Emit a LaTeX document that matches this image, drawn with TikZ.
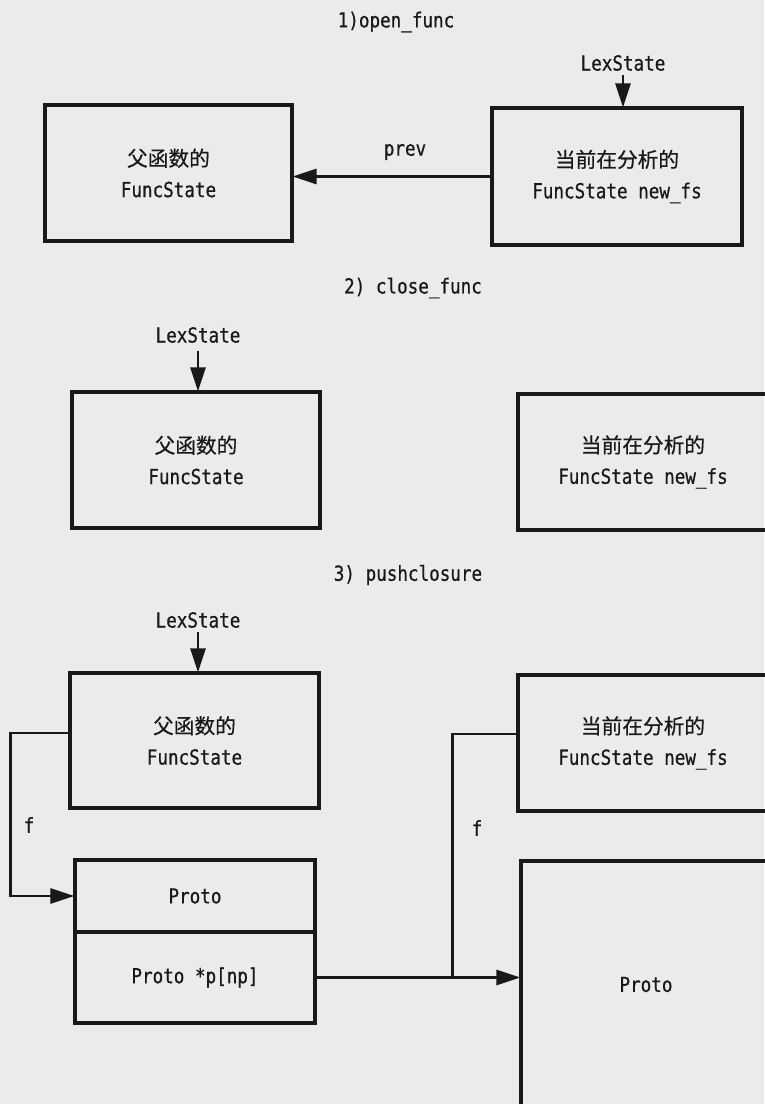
\documentclass[tikz,border=0pt]{standalone}
\usepackage{fontspec}
\setmainfont[FakeStretch=0.85,FakeBold=0.6]{DejaVu Sans Mono}
\newfontfamily\cjk[FakeBold=0.5]{Noto Sans CJK SC}
\usetikzlibrary{arrows.meta}
\begin{document}
\begin{tikzpicture}[x=1pt,y=-1pt,
  txt/.style={font=\fontsize{20.7}{31}\selectfont, inner sep=1pt, text=black!90},
  box/.style={draw=black!90, line width=3.2pt, align=center, inner sep=0pt,
    font=\fontsize{20.7}{31}\selectfont, text=black!90},
  conn/.style={draw=black!90, line width=2.8pt},
  arr/.style={conn, -{Triangle[length=24pt,width=15pt]}, shorten >=-1pt}]
\fill[black!8] (0,0) rectangle (764,1104);
\useasboundingbox (0,0) rectangle (764,1104);

% titles
\node[txt] (t1) at (396,22) {1)open\_func};
\node[txt] (t2) at (413,288) {2) close\_func};
\node[txt] (t3) at (408,575) {3) pushclosure};

% 1) open_func
\node[box, minimum width=247, minimum height=136] (box1) at (168.5,173) {{\cjk 父函数的}\\FuncState};
\node[box, minimum width=250, minimum height=137] (box2) at (617,176.5) {{\cjk 当前在分析的}\\FuncState new\_fs};
\node[txt] (lex1) at (623,63) {LexState};
\draw[arr, shorten <=3pt] (lex1.south) -- (lex1.south |- box2.north);
\draw[arr] (box2.west) -- (box2.west -| box1.east);
\node[txt] (prevl) at (405,152) {prev};

% 2) close_func
\node[box, minimum width=248, minimum height=136] (box3) at (196,460) {{\cjk 父函数的}\\FuncState};
\node[box, minimum width=250, minimum height=136] (box4) at (643,462) {{\cjk 当前在分析的}\\FuncState new\_fs};
\node[txt] (lex2) at (198,335) {LexState};
\draw[arr, shorten <=7pt] (lex2.south) -- (lex2.south |- box3.north);

% 3) pushclosure
\node[box, minimum width=249, minimum height=135] (box5) at (194.5,740.5) {{\cjk 父函数的}\\FuncState};
\node[box, minimum width=250, minimum height=136] (box6) at (643,743) {{\cjk 当前在分析的}\\FuncState new\_fs};
\node[txt] (lex3) at (198,620) {LexState};
\draw[arr, shorten <=3pt] (lex3.south) -- (lex3.south |- box5.north);

\node[box, minimum width=240, minimum height=72] (protoA) at (195,896) {Proto};
\node[box, minimum width=240, minimum height=91] (protoB) at (195,977.5) {Proto *p[np]};
\node[box, minimum width=250, minimum height=247] (proto2) at (646,984.5) {Proto};

\draw[arr] ([yshift=7.5pt]box5.west) -- ++(-58,0) |- (protoA.west);
\node[txt] (f1) at (29,825) {f};

\draw[arr] (protoB.east) -- (protoB.east -| proto2.west);
\draw[conn] ([yshift=9pt]box6.west) -- ++(-64,0) coordinate (rc) -- (rc |- protoB.east);
\node[txt] (f2) at (477,828) {f};
\end{tikzpicture}
\end{document}
